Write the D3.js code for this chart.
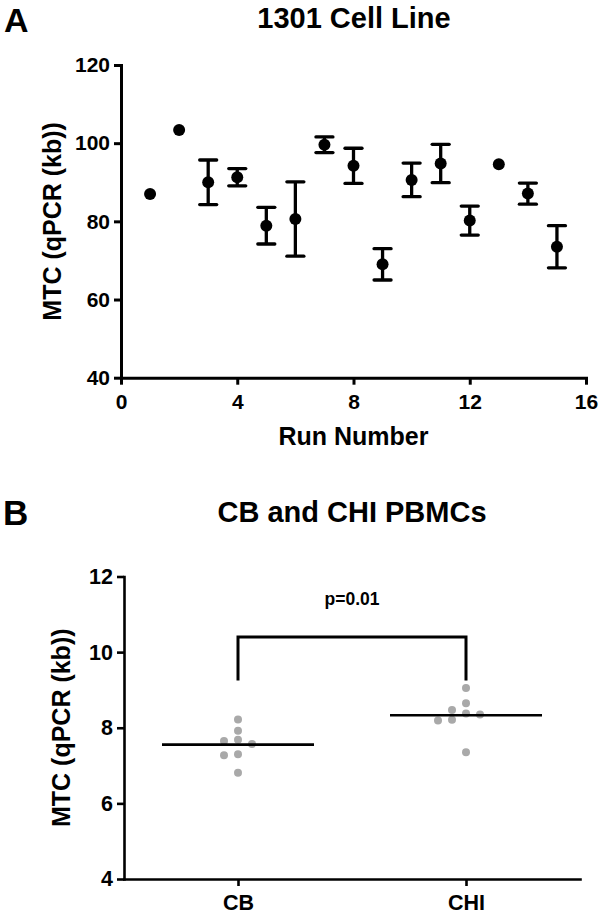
<!DOCTYPE html>
<html><head><meta charset="utf-8">
<script src="https://cdn.jsdelivr.net/npm/d3@7"></script>
<style>
body{margin:0;background:#fff}
svg{display:block}
text{font-family:"Liberation Sans",Arial,Helvetica,sans-serif;font-weight:bold;fill:#000}
</style>
</head><body>
<script>
// ---------- Panel A data ----------
const runNumbers = [1,2,3,4,5,6,7,8,9,10,11,12,13,14,15];
const runMeans   = [87.0,103.4,90.0,91.3,78.9,80.6,99.6,94.2,69.0,90.6,94.8,80.2,94.6,87.1,73.5];
const runErrors  = [null,null,5.7,2.2,4.7,9.5,2.0,4.5,4.0,4.3,4.9,3.7,null,2.7,5.4];
const xTicksA = [0,4,8,12,16];
const yTicksA = [40,60,80,100,120];
const titleA = "1301 Cell Line";
const xLabelA = "Run Number";
const yLabel = "MTC (qPCR (kb))";

// ---------- Panel B data ----------
const groups = ["CB","CHI"];
const cbValues  = [8.22,7.92,7.65,7.57,7.68,7.30,7.27,6.81];
const chiValues = [9.05,8.65,8.47,8.38,8.35,8.21,8.19,7.35];
const yTicksB = [4,6,8,10,12];
const titleB = "CB and CHI PBMCs";
const pLabel = "p=0.01";
const bracketTop = 10.4, bracketBottom = 9.25, pLabelY = 11.25;

const W = 600, H = 914;
const svg = d3.select("body").append("svg").attr("width", W).attr("height", H);

function styleAxis(g, sw, fs){
  g.selectAll("path.domain").attr("stroke","#000").attr("stroke-width",sw).attr("stroke-linecap","square");
  g.selectAll(".tick line").attr("stroke","#000").attr("stroke-width",sw);
  g.selectAll(".tick text").attr("font-size",fs).attr("font-family",'"Liberation Sans",Arial,sans-serif').attr("font-weight","bold").attr("fill","#000");
}

// ================= Panel A =================
const xA = d3.scaleLinear().domain([0,16]).range([121,586]);
const yA = d3.scaleLinear().domain([40,120]).range([377.7,65]);

svg.append("text").attr("x",4).attr("y",32).attr("font-size",34).text("A");
svg.append("text").attr("x",354).attr("y",28).attr("text-anchor","middle").attr("font-size",29).text(titleA);

const gAx = svg.append("g").attr("transform",`translate(0,${yA(40)})`)
  .call(d3.axisBottom(xA).tickValues(xTicksA).tickFormat(d3.format("d")).tickSize(7).tickSizeOuter(0).tickPadding(9));
styleAxis(gAx, 3, 21);
const gAy = svg.append("g").attr("transform",`translate(${xA(0)},0)`)
  .call(d3.axisLeft(yA).tickValues(yTicksA).tickFormat(d3.format("d")).tickSize(7).tickSizeOuter(0).tickPadding(4));
styleAxis(gAy, 3, 21);

svg.append("text").attr("x",(xA(0)+xA(16))/2).attr("y",445).attr("text-anchor","middle").attr("font-size",25).text(xLabelA);
svg.append("text").attr("transform",`translate(61,${(yA(40)+yA(120))/2}) rotate(-90)`).attr("text-anchor","middle").attr("font-size",25).text(yLabel);

const runData = runNumbers.map((r,i)=>({run:r, mean:runMeans[i], err:runErrors[i]}));
const gE = svg.append("g").attr("stroke","#000").attr("stroke-width",3.3);
runData.filter(d=>d.err!=null).forEach(d=>{
  const x = xA(d.run), y1 = yA(d.mean+d.err), y2 = yA(d.mean-d.err);
  gE.append("line").attr("x1",x).attr("x2",x).attr("y1",y1).attr("y2",y2);
  gE.append("line").attr("x1",x-8.5).attr("x2",x+8.5).attr("y1",y1).attr("y2",y1).attr("stroke-linecap","round");
  gE.append("line").attr("x1",x-8.5).attr("x2",x+8.5).attr("y1",y2).attr("y2",y2).attr("stroke-linecap","round");
});
svg.append("g").selectAll("circle").data(runData).join("circle")
  .attr("cx",d=>xA(d.run)).attr("cy",d=>yA(d.mean)).attr("r",6).attr("fill","#000");

// ================= Panel B =================
const xB = d3.scalePoint().domain(groups).range([124,580]).padding(0.5);
const yB = d3.scaleLinear().domain([4,12]).range([879,576.5]);

svg.append("text").attr("x",3).attr("y",525).attr("font-size",35).text("B");
svg.append("text").attr("x",352).attr("y",522).attr("text-anchor","middle").attr("font-size",29).text(titleB);

const gBx = svg.append("g").attr("transform",`translate(0,${yB(4)})`)
  .call(d3.axisBottom(xB).tickSize(7).tickSizeOuter(0).tickPadding(9));
styleAxis(gBx, 2.6, 21.5);
const gBy = svg.append("g").attr("transform",`translate(124,0)`)
  .call(d3.axisLeft(yB).tickValues(yTicksB).tickFormat(d3.format("d")).tickSize(7).tickSizeOuter(0).tickPadding(4));
styleAxis(gBy, 2.6, 21.5);

svg.append("text").attr("transform",`translate(70,${(yB(4)+yB(12))/2}) rotate(-90)`).attr("text-anchor","middle").attr("font-size",25).text(yLabel);

// beeswarm placement (greedy, deterministic)
const rB = 4, step = 14;
function swarm(values, cx){
  const placed = [];
  const sorted = values.map((v,i)=>({v,i})).sort((a,b)=>b.v-a.v);
  sorted.forEach(p=>{
    const y = yB(p.v);
    for(let k=0;k<20;k++){
      const off = k===0?0:(k%2===1?-1:1)*Math.ceil(k/2)*step;
      const ok = placed.every(q=>Math.hypot(q.x-(cx+off), q.y-y) >= 2*rB+1);
      if(ok){ placed.push({x:cx+off,y,v:p.v}); break; }
    }
  });
  return placed;
}
const groupVals = {CB:cbValues, CHI:chiValues};
groups.forEach(g=>{
  const pts = swarm(groupVals[g], xB(g));
  svg.append("g").selectAll("circle").data(pts).join("circle")
    .attr("cx",d=>d.x).attr("cy",d=>d.y).attr("r",rB).attr("fill","#a9a9a9");
  const m = d3.mean(groupVals[g]);
  svg.append("line").attr("x1",xB(g)-76).attr("x2",xB(g)+76).attr("y1",yB(m)).attr("y2",yB(m))
    .attr("stroke","#000").attr("stroke-width",2.6);
});

// significance bracket
svg.append("path")
  .attr("d",`M${xB("CB")},${yB(bracketBottom)}V${yB(bracketTop)}H${xB("CHI")}V${yB(bracketBottom)}`)
  .attr("fill","none").attr("stroke","#000").attr("stroke-width",3);
svg.append("text").attr("x",(xB("CB")+xB("CHI"))/2).attr("y",yB(pLabelY)).attr("text-anchor","middle").attr("font-size",17.5).text(pLabel);
</script>
</body></html>
